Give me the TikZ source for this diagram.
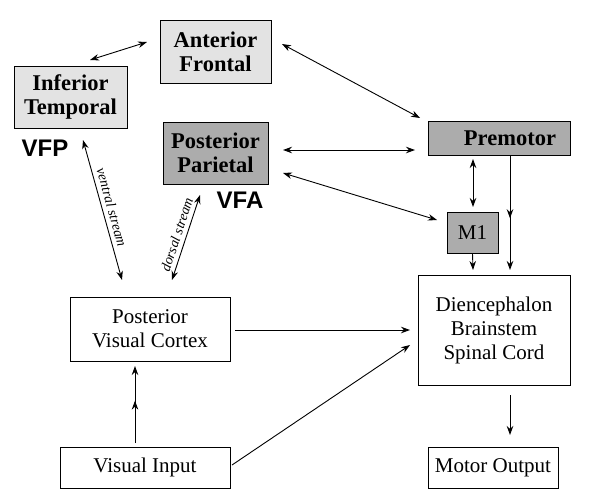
\documentclass[tikz,border=0pt]{standalone}
\usepackage{fontspec}
\setmainfont{Liberation Serif}
\newfontfamily\lsans{Liberation Sans}
\usetikzlibrary{decorations.markings,arrows.meta}
\begin{document}
\begin{tikzpicture}[x=1pt,y=-1pt,line width=0.9pt,
 >={Stealth[length=9pt,width=6.5pt]},
 box/.style={draw,line width=1pt,inner sep=0pt,align=center,font=\fontsize{21}{24}\selectfont},
 dot/.style={box,fill=gray!22,font=\fontsize{22.5}{24}\selectfont\bfseries},
 grey/.style={box,fill=gray!65,font=\fontsize{22.5}{24}\selectfont\bfseries},
 lab/.style={font=\lsans\fontsize{24}{26}\selectfont\bfseries},
 ar/.style={->},
 dar/.style={<->},
 mid/.style={postaction={decorate},decoration={markings,mark=at position 0.55 with {\arrow{Stealth[length=9pt,width=6.5pt]}}}}]
\useasboundingbox (0,0) rectangle (609,490);
\node[dot,minimum width=111,minimum height=63] (af) at (215.5,51.5) {Anterior\\Frontal};
\node[dot,minimum width=113,minimum height=62] (it) at (70.5,97) {Inferior\\Temporal};
\node[lab] (vfp) at (45,148) {VFP};
\node[grey,minimum width=105,minimum height=62] (pp) at (215.5,153) {Posterior\\Parietal};
\node[lab] (vfa) at (240,200) {VFA};
\node[grey,minimum width=142,minimum height=34] (pm) at (499,138) {\hspace*{22pt}Premotor};
\node[box,fill=gray!65,minimum width=51,minimum height=41] (m1) at (472.5,232.5) {M1};
\node[box,minimum width=152,minimum height=110] (di) at (494,330) {Diencephalon\\Brainstem\\Spinal Cord};
\node[box,minimum width=130,minimum height=41] (mo) at (493,467.5) {Motor Output};
\node[box,minimum width=160,minimum height=64] (pv) at (150,329) {Posterior\\Visual Cortex};
\node[box,minimum width=170,minimum height=41] (vi) at (145,467.5) {Visual Input};
\coordinate (a1) at (90,60); \coordinate (a2) at (147,42);
\draw[dar] (a1) -- (a2);
\coordinate (b1) at (282,44); \coordinate (b2) at (420,118);
\draw[dar] (b1) -- (b2);
\coordinate (c1) at (283,150); \coordinate (c2) at (415,150);
\draw[dar] (c1) -- (c2);
\coordinate (d1) at (283,173); \coordinate (d2) at (437,220);
\draw[dar] (d1) -- (d2);
\coordinate (e1) at (473,159); \coordinate (e2) at (473,207);
\draw[dar] (e1) -- (e2);
\coordinate (f1) at (510,155); \coordinate (f2) at (510,270);
\draw[ar,mid] (f1) -- (f2);
\coordinate (g1) at (473,270);
\draw[ar] (m1.south) -- (g1);
\coordinate (h1) at (83,140); \coordinate (h2) at (122,280);
\draw[dar] (h1) -- node[sloped,above=1pt,font=\itshape\fontsize{14}{15}\selectfont] {ventral stream} (h2);
\coordinate (i1) at (200,195); \coordinate (i2) at (172,280);
\draw[dar] (i1) -- node[sloped,above=1pt,font=\itshape\fontsize{14}{15}\selectfont] {dorsal stream} (i2);
\coordinate (j0) at (235,330); \coordinate (j1) at (410,330);
\draw[ar] (j0) -- (j1);
\coordinate (k1) at (232,465); \coordinate (k2) at (410,345);
\draw[ar] (k1) -- (k2);
\coordinate (l1) at (135,443); \coordinate (l2) at (135,366);
\draw[ar,mid] (l1) -- (l2);
\coordinate (m1a) at (510,395); \coordinate (m2) at (510,435);
\draw[ar] (m1a) -- (m2);
\end{tikzpicture}
\end{document}
